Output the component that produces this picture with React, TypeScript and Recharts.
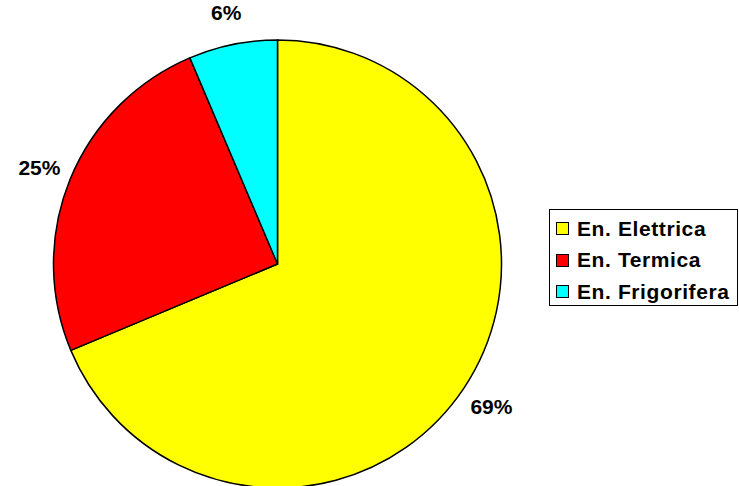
import React from "react";
import { PieChart, Pie, Cell, Legend } from "recharts";

const categories = ["En. Elettrica", "En. Termica", "En. Frigorifera"];
const values = [68.7, 24.9, 6.4];
const colors = ["#FFFF00", "#FF0000", "#00FFFF"];

const data = categories.map((name, i) => ({ name, value: values[i] }));
const total = values.reduce((a, b) => a + b, 0);

const RAD = Math.PI / 180;

const renderLabel = (props: any) => {
  const { cx, cy, midAngle, outerRadius, value } = props;
  const r = outerRadius + 33;
  const x = cx + r * Math.cos(-midAngle * RAD);
  const y = cy + r * Math.sin(-midAngle * RAD);
  return (
    <text
      x={x}
      y={y}
      textAnchor="middle"
      dominantBaseline="central"
      fill="#000"
      fontSize={21}
      fontWeight="bold"
      fontFamily="'Liberation Sans', Arial, sans-serif"
    >
      {`${Math.round((value / total) * 100)}%`}
    </text>
  );
};

const LegendContent = () => (
  <div
    style={{
      border: "1px solid #000",
      background: "#fff",
      width: 189,
      height: 97,
      boxSizing: "border-box",
      padding: "3px 0 0 6px",
      fontFamily: "'Liberation Sans', Arial, sans-serif",
      fontWeight: "bold",
      fontSize: 21,
      letterSpacing: 0.6,
    }}
  >
    {categories.map((c, i) => (
      <div
        key={c}
        style={{ display: "flex", alignItems: "center", height: 31.5 }}
      >
        <span
          style={{
            display: "inline-block",
            width: 11,
            height: 11,
            background: colors[i],
            border: "1px solid #000",
            marginRight: 8,
            flexShrink: 0,
          }}
        />
        <span style={{ color: "#000", whiteSpace: "nowrap" }}>{c}</span>
      </div>
    ))}
  </div>
);

export default function App() {
  return (
    <div style={{ position: "absolute", left: 0, top: 0, width: 739, height: 486, background: "#fff", overflow: "hidden" }}>
      <PieChart width={739} height={486} margin={{ top: 0, right: 0, bottom: 0, left: 0 }}>
        <Pie
          data={data}
          dataKey="value"
          nameKey="name"
          cx={277.5}
          cy={264}
          outerRadius={224}
          startAngle={90}
          endAngle={-270}
          stroke="#000"
          strokeWidth={1.5}
          label={renderLabel}
          labelLine={false}
          isAnimationActive={false}
        >
          {data.map((d, i) => (
            <Cell key={d.name} fill={colors[i]} />
          ))}
        </Pie>
        <Legend
          content={<LegendContent />}
          wrapperStyle={{ position: "absolute", left: 549, top: 209, width: 189, height: 97 }}
        />
      </PieChart>
    </div>
  );
}
